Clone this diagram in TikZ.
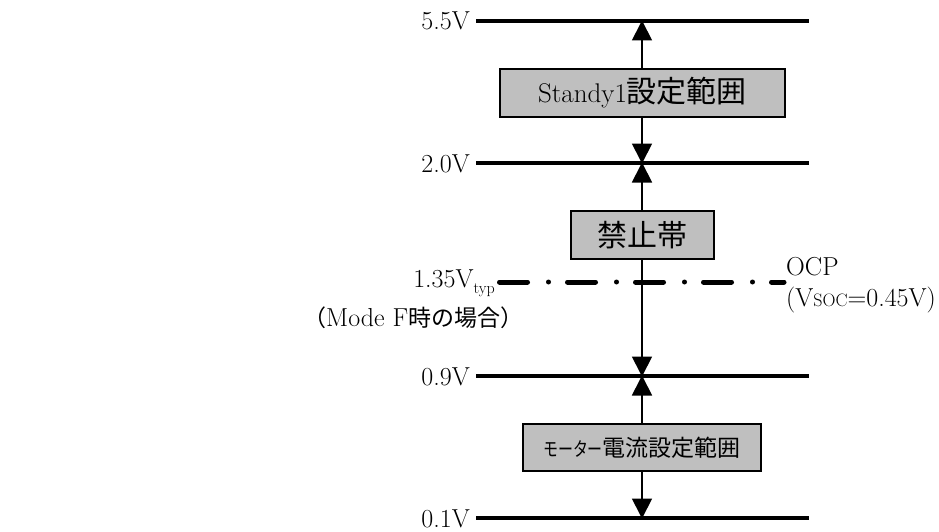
\documentclass[tikz,border=0pt]{standalone}
\usepackage{fontspec}
\newfontfamily\cjk{Noto Sans CJK JP}
\newcommand\jp[1]{{\cjk #1}}
\usetikzlibrary{arrows.meta}
\begin{document}
\begin{tikzpicture}[x=1pt,y=-1pt,
  level/.style={line width=3.5pt},
  lbl/.style={anchor=base east,inner sep=0pt,font=\fontsize{26}{26}\selectfont},
  txt/.style={inner sep=0pt,font=\fontsize{26}{26}\selectfont},
  rangebox/.style={draw,line width=1.6pt,fill=black!25,inner sep=0pt},
  arr/.style={line width=1.8pt,-{Triangle[length=20pt,width=20pt]},shorten >=-0.5pt}
]
\useasboundingbox (0,0) rectangle (939,532);
% voltage levels
\coordinate (l55a) at (476,21);  \coordinate (l55b) at (809,21);
\coordinate (l20a) at (476,163); \coordinate (l20b) at (809,163);
\coordinate (l09a) at (476,376); \coordinate (l09b) at (809,376);
\coordinate (l01a) at (476,518); \coordinate (l01b) at (809,518);
\coordinate (ocpa) at (499.5,282); \coordinate (ocpb) at (784,282);
\draw[level] (l55a) -- (l55b);
\draw[level] (l20a) -- (l20b);
\draw[level] (l09a) -- (l09b);
\draw[level] (l01a) -- (l01b);
\draw[line width=5pt,line cap=round,dash pattern=on 28pt off 21pt on 0pt off 19pt] (ocpa) -- (ocpb);
% labels
\node[lbl] (t55) at (470,30) {5.5V};
\node[lbl] (t20) at (470,172) {2.0V};
\node[lbl] (t09) at (470,385) {0.9V};
\node[lbl] (t01) at (470,527) {0.1V};
\node[txt,anchor=base east] (t135) at (495,287) {1.35V\raisebox{-6pt}{\fontsize{16}{16}\selectfont typ}};
\node[txt,anchor=base west] (tmode) at (303,326) {\jp{\fontsize{23}{23}\selectfont （}Mode F\jp{\fontsize{23}{23}\selectfont 時の場合）}};
\node[txt,anchor=base west] (tocp) at (786,275) {OCP};
\node[txt,anchor=base west] (tvsoc) at (786,306) {(V{\fontsize{18}{18}\selectfont SOC}=0.45V)};
% boxes
\node[rangebox,minimum width=285pt,minimum height=48pt] (b1) at (642.5,93)
  {\fontsize{27}{27}\selectfont Standy1\jp{\fontsize{30}{30}\selectfont 設定範囲}};
\node[rangebox,minimum width=143pt,minimum height=48pt,font=\fontsize{30}{30}\selectfont\cjk] (b2) at (642.5,235) {禁止帯};
\node[rangebox,minimum width=238pt,minimum height=47pt,font=\fontsize{23}{23}\selectfont\cjk] (b3) at (642,447.5) {\scalebox{0.65}[0.85]{モーター}電流設定範囲};
% arrows
\coordinate (a55) at (642,21);
\coordinate (a20) at (642,163);
\coordinate (a09) at (642,376);
\coordinate (a01) at (642,518);
\draw[arr] (b1.north -| a55) -- (a55);
\draw[arr] (b1.south -| a20) -- (a20);
\draw[arr] (b2.north -| a20) -- (a20);
\draw[arr] (b2.south -| a09) -- (a09);
\draw[arr] (b3.north -| a09) -- (a09);
\draw[arr] (b3.south -| a01) -- (a01);
\end{tikzpicture}
\end{document}
